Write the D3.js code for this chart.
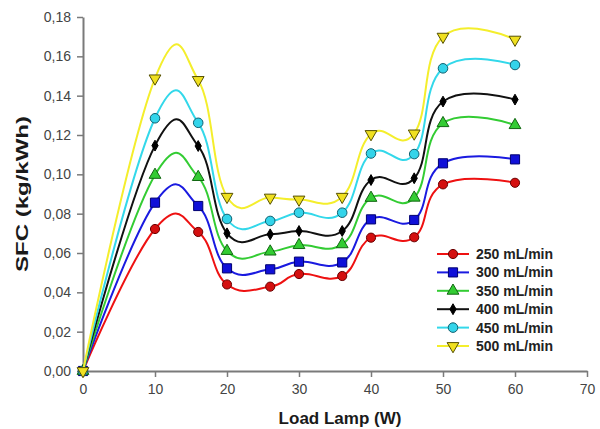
<!DOCTYPE html>
<html>
<head>
<meta charset="utf-8">
<script src="https://cdn.jsdelivr.net/npm/d3@7"></script>
<style>
  html, body { margin: 0; padding: 0; background: #fff; }
  svg { display: block; font-family: "Liberation Sans", Arial, sans-serif; }
</style>
</head>
<body>
<svg id="chart" width="600" height="429"></svg>
<script>
// Load lamp (W) and specific fuel consumption (kg/kWh) per flow rate
const loads = [0, 10, 16, 20, 26, 30, 36, 40, 46, 50, 60];
const sfc250 = [0, 0.0722, 0.0707, 0.0440, 0.0429, 0.0493, 0.0483, 0.0678, 0.0680, 0.0949, 0.0957];
const sfc300 = [0, 0.0856, 0.0839, 0.0522, 0.0517, 0.0556, 0.0552, 0.0771, 0.0768, 0.1056, 0.1076];
const sfc350 = [0, 0.0997, 0.0986, 0.0610, 0.0607, 0.0640, 0.0644, 0.0880, 0.0881, 0.1260, 0.1250];
const sfc400 = [0, 0.1146, 0.1144, 0.0700, 0.0695, 0.0712, 0.0712, 0.0971, 0.0980, 0.1370, 0.1380];
const sfc450 = [0, 0.1285, 0.1262, 0.0773, 0.0763, 0.0805, 0.0805, 0.1106, 0.1103, 0.1539, 0.1556];
const sfc500 = [0, 0.1488, 0.1480, 0.0886, 0.0882, 0.0872, 0.0886, 0.1205, 0.1208, 0.1700, 0.1685];
const seriesNames = ["250 mL/min", "300 mL/min", "350 mL/min", "400 mL/min", "450 mL/min", "500 mL/min"];
const xTicks = [0, 10, 20, 30, 40, 50, 60, 70];
const yTicks = [0, 0.02, 0.04, 0.06, 0.08, 0.10, 0.12, 0.14, 0.16, 0.18];

const seriesValues = [sfc250, sfc300, sfc350, sfc400, sfc450, sfc500];
const styles = [
  { line: "#ee1111", fill: "#d40f0f", stroke: "#6a0000", symbol: d3.symbolCircle, size: 66, rot: 0 },
  { line: "#1a1ae0", fill: "#1010d8", stroke: "#000070", symbol: d3.symbolSquare, size: 84, rot: 0 },
  { line: "#33cc33", fill: "#33cc33", stroke: "#116611", symbol: d3.symbolTriangle, size: 60, rot: 0 },
  { line: "#111111", fill: "#000000", stroke: "#000000", symbol: d3.symbolDiamond, size: 34, rot: 0 },
  { line: "#33d8ea", fill: "#33d4ea", stroke: "#106070", symbol: d3.symbolCircle, size: 72, rot: 0 },
  { line: "#f4ee2c", fill: "#f0e020", stroke: "#555000", symbol: d3.symbolTriangle, size: 60, rot: 180 }
];

const svg = d3.select("#chart");
const margin = { left: 83, right: 13, top: 17, bottom: 58 };
const W = 600, H = 429;

const x = d3.scaleLinear().domain([0, 70]).range([margin.left, W - margin.right]);
const y = d3.scaleLinear().domain([0, 0.18]).range([H - margin.bottom, margin.top]);

const axisColor = "#7a7a7a";
const fmt = v => d3.format(".2f")(v).replace(".", ",");

// Y axis
const gy = svg.append("g")
  .attr("transform", `translate(${margin.left},0)`)
  .call(d3.axisLeft(y).tickValues(yTicks).tickFormat(fmt).tickSize(6).tickPadding(6).tickSizeOuter(0));
// X axis
const gx = svg.append("g")
  .attr("transform", `translate(0,${H - margin.bottom})`)
  .call(d3.axisBottom(x).tickValues(xTicks).tickFormat(d3.format("d")).tickSize(6).tickPadding(7).tickSizeOuter(0));

[gx, gy].forEach(g => {
  g.select(".domain").attr("stroke", axisColor).attr("stroke-width", 2);
  g.selectAll(".tick line").attr("stroke", axisColor).attr("stroke-width", 1.5);
  g.selectAll(".tick text").attr("fill", "#444").style("font-size", "14px")
    .style("font-family", "'Liberation Sans', Arial, sans-serif");
});

// Axis titles
svg.append("text")
  .attr("x", 340).attr("y", 424)
  .attr("text-anchor", "middle")
  .style("font-size", "17px").style("font-weight", "bold").attr("fill", "#1a1a1a")
  .text("Load Lamp (W)");
svg.append("text")
  .attr("transform", `translate(28,${(margin.top + H - margin.bottom) / 2}) rotate(-90)`)
  .attr("text-anchor", "middle")
  .attr("textLength", 156)
  .attr("lengthAdjust", "spacingAndGlyphs")
  .style("font-size", "16px").style("font-weight", "bold").attr("fill", "#1a1a1a")
  .text("SFC (kg/kWh)");

// Smoothed series lines
const line = d3.line()
  .x((d, i) => x(loads[i]))
  .y(d => y(d))
  .curve(d3.curveCardinal.tension(-0.3));

const symbolPath = (s) => d3.symbol().type(s.symbol).size(s.size)();

seriesValues.forEach((vals, k) => {
  const s = styles[k];
  const g = svg.append("g");
  g.append("path")
    .attr("d", line(vals))
    .attr("fill", "none")
    .attr("stroke", s.line)
    .attr("stroke-width", 2);
  g.selectAll("path.mk")
    .data(vals)
    .join("path")
    .attr("class", "mk")
    .attr("d", symbolPath(s))
    .attr("transform", (d, i) => `translate(${x(loads[i])},${y(d)}) rotate(${s.rot})`)
    .attr("fill", s.fill)
    .attr("stroke", s.stroke)
    .attr("stroke-width", 1);
});

// Legend
const legend = svg.append("g");
seriesNames.forEach((name, k) => {
  const s = styles[k];
  const ly = 254 + k * 18.4;
  legend.append("line")
    .attr("x1", 437).attr("x2", 469).attr("y1", ly).attr("y2", ly)
    .attr("stroke", s.line).attr("stroke-width", 2);
  legend.append("path")
    .attr("d", symbolPath(s))
    .attr("transform", `translate(453,${ly}) rotate(${s.rot})`)
    .attr("fill", s.fill).attr("stroke", s.stroke).attr("stroke-width", 1);
  legend.append("text")
    .attr("x", 476).attr("y", ly + 5)
    .style("font-size", "14px").style("font-weight", "bold").attr("fill", "#222")
    .text(name);
});
</script>
</body>
</html>
